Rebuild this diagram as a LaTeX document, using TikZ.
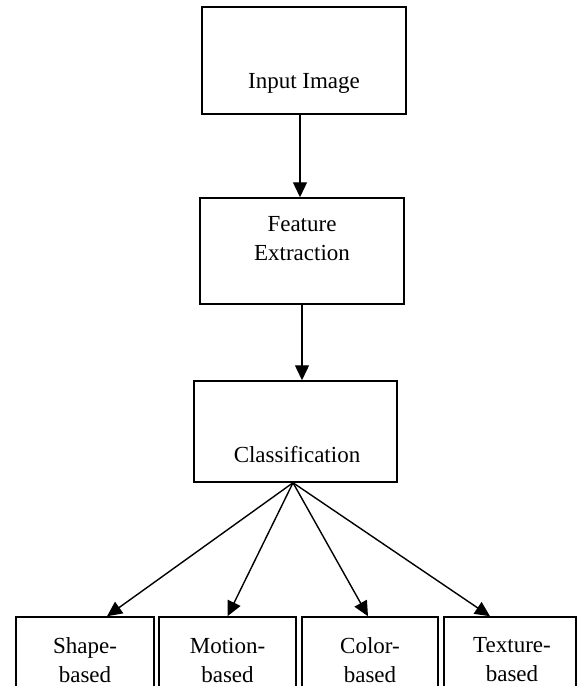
\documentclass[tikz,border=0pt]{standalone}
\usepackage{fontspec}
\setmainfont{Liberation Serif}
\usetikzlibrary{arrows.meta, positioning}

\tikzset{
  box/.style={draw, line width=1.5pt, inner sep=0pt},
  lbl/.style={inner sep=0pt, align=center, font=\fontsize{23}{29}\selectfont},
  flow/.style={line width=1.4pt, -{Triangle[length=15pt, width=14pt]}},
}

\begin{document}
\begin{tikzpicture}[x=1pt, y=-1pt]
  \clip (0,0) rectangle (577,686);
  % main column
  \node[box, minimum width=204pt, minimum height=107pt] (input) at (304,60.5) {};
  \node[box, minimum width=204pt, minimum height=106pt] (feature) at (302,251) {};
  \node[box, minimum width=203pt, minimum height=101pt] (class) at (295.5,431.5) {};
  \node[lbl] (inputtxt) at (304,83) {Input Image};
  \node[lbl] (featuretxt) at (302,239) {Feature\\Extraction};
  \node[lbl] (classtxt) at (297,455) {Classification};
  % bottom row
  \node[box, minimum width=138pt, minimum height=100pt] (shape) at (85,667) {};
  \node[box, minimum width=137pt, minimum height=100pt] (motion) at (227.5,667) {};
  \node[box, minimum width=136pt, minimum height=100pt] (color) at (370,667) {};
  \node[box, minimum width=132pt, minimum height=100pt] (texture) at (510,667) {};
  \node[lbl] (shapetxt) at (85,660) {Shape-\\based};
  \node[lbl] (motiontxt) at (227.5,660) {Motion-\\based};
  \node[lbl] (colortxt) at (370,660) {Color-\\based};
  \node[lbl] (texturetxt) at (512,660) {Texture-\\based};
  % connectors
  \draw[flow] ([xshift=-4pt]input.south) -- ([xshift=-2pt]feature.north);
  \draw[flow] (feature.south) -- ([xshift=6.5pt]class.north);
  \coordinate (fan) at ([xshift=-2.5pt]class.south);
  \draw[flow] (fan) -- ([xshift=22pt]shape.north);
  \draw[flow] (fan) -- (motion.north);
  \draw[flow] (fan) -- ([xshift=-2pt]color.north);
  \draw[flow] (fan) -- ([xshift=-20pt]texture.north);
\end{tikzpicture}
\end{document}
